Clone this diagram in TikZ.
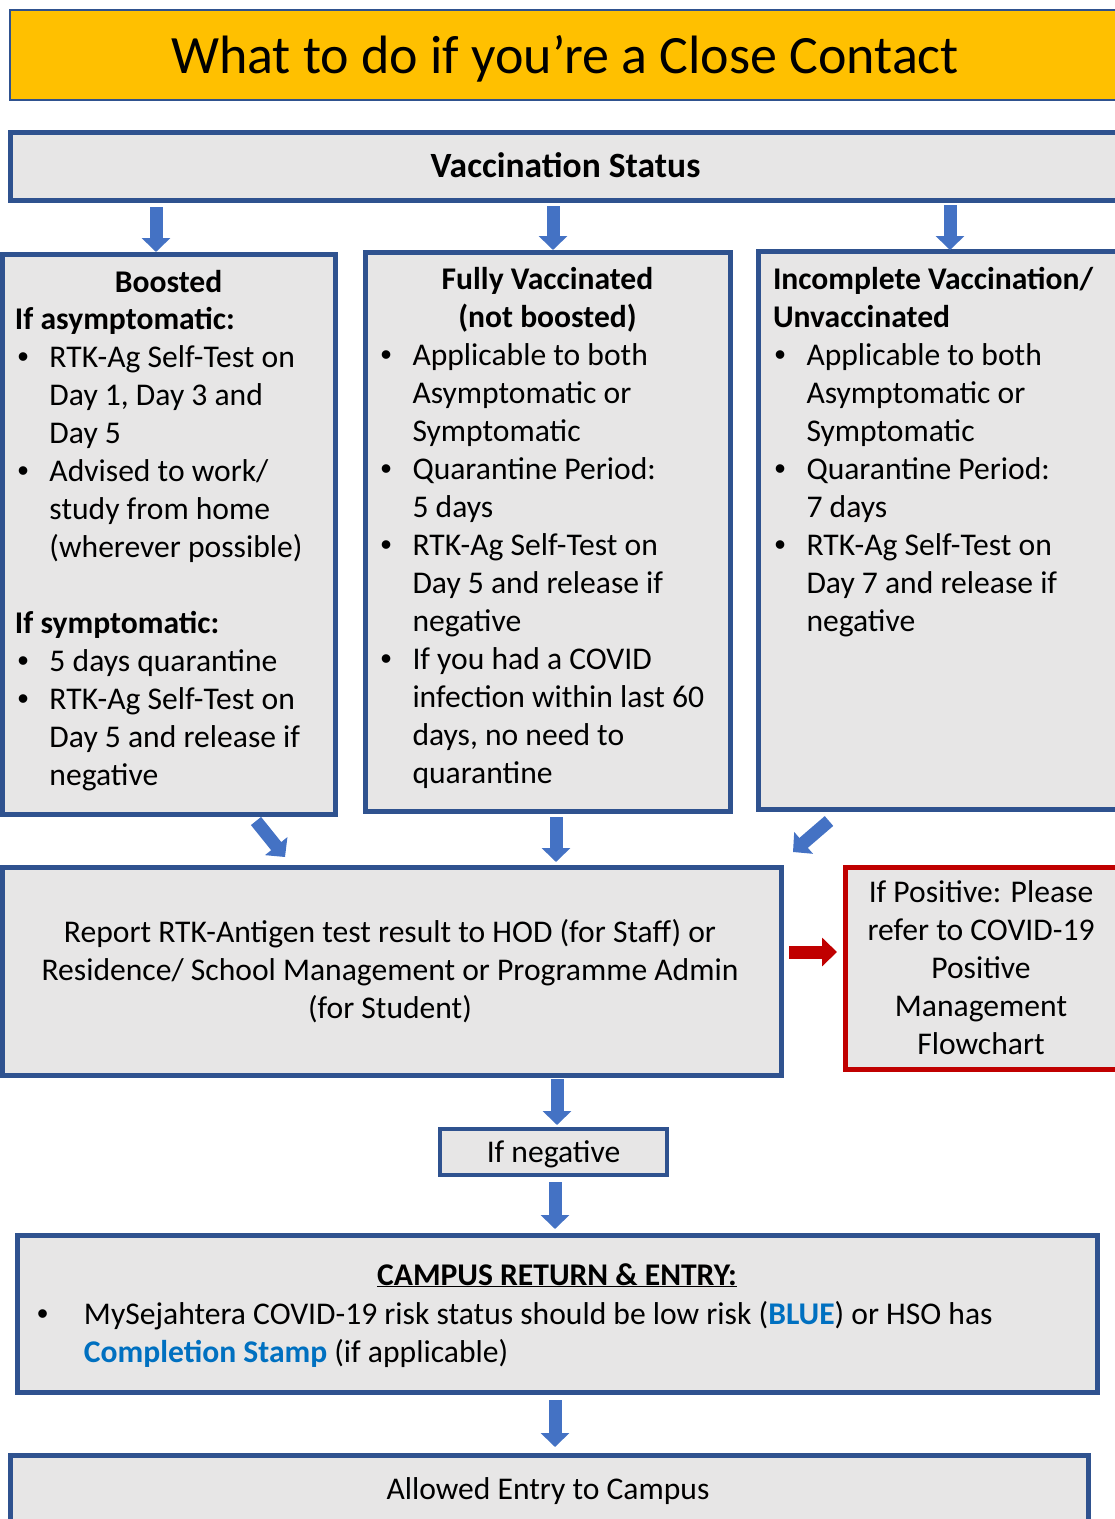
\documentclass[tikz,border=0pt]{standalone}
\usepackage{fontspec}
\setmainfont{Carlito}
\newfontfamily\arialf{Liberation Sans}
\usetikzlibrary{arrows.meta,fit}
\definecolor{bord}{HTML}{2F528F}
\definecolor{boxfill}{HTML}{E7E6E6}
\definecolor{arrowblue}{HTML}{4472C4}
\definecolor{titlefill}{HTML}{FFC000}
\definecolor{redbord}{HTML}{C00000}
\definecolor{textblue}{HTML}{0070C0}
\newcommand\bi{\makebox[32pt][l]{{\arialf •}}}
\newcommand\ci{\hspace*{32pt}}
\begin{document}
\begin{tikzpicture}[x=1pt,y=-1pt,
  box/.style={draw=bord, fill=boxfill, line width=5pt, inner sep=0pt, outer sep=0pt},
  txt/.style={inner sep=0pt, outer sep=0pt, font=\fontsize{31.6}{38}\selectfont},
  barrow/.style={line width=13pt, draw=arrowblue, -{Triangle[width=28pt,length=14pt]}},
  rarrow/.style={line width=13pt, draw=redbord, -{Triangle[width=28pt,length=15pt]}},
]
\useasboundingbox (0,0) rectangle (1115,1519);
\clip (0,0) rectangle (1115,1519);
% boxes
\node[box, line width=2pt, fill=titlefill, fit={(9.5,10) (1121,99.5)}] (title) {};
\node[box, fit={(10.5,132.5) (1121,200)}] (status) {};
\node[box, fit={(2,254.5) (335,814)}] (boost) {};
\node[box, fit={(365,252) (730,811)}] (fully) {};
\node[box, fit={(758,251) (1125,809)}] (incompl) {};
\node[box, fit={(2,867) (781,1075)}] (report) {};
\node[box, draw=redbord, fit={(845,867) (1117,1069)}] (pos) {};
\node[box, line width=4pt, fit={(440,1129) (667,1175)}] (neg) {};
\node[box, fit={(17,1235) (1097,1392)}] (campus) {};
\node[box, fit={(10,1455) (1088,1545)}] (allowed) {};
% texts
\node[txt, font=\fontsize{54}{64}\selectfont, anchor=base] (titletxt) at (565,73) {What to do if you’re a Close Contact};
\node[txt, font=\fontsize{35.5}{42}\selectfont, anchor=base] (statustxt) at (565.5,177) {\bfseries Vaccination Status};
\node[txt, anchor=base] (boosthead) at (168.5,292) {\bfseries Boosted};
\node[txt, anchor=north west, align=left] (boostbody) at (15,302.4) {\strut{\bfseries If asymptomatic:}\\
\hspace*{2.5pt}\bi RTK-Ag Self-Test on\\
\hspace*{2.5pt}\ci Day 1, Day 3 and\\
\hspace*{2.5pt}\ci Day 5\\
\hspace*{2.5pt}\bi Advised to work/\\
\hspace*{2.5pt}\ci study from home\\
\hspace*{2.5pt}\ci (wherever possible)\\
\strut\\
{\bfseries If symptomatic:}\\
\hspace*{2.5pt}\bi 5 days quarantine\\
\hspace*{2.5pt}\bi RTK-Ag Self-Test on\\
\hspace*{2.5pt}\ci Day 5 and release if\\
\hspace*{2.5pt}\ci negative};
\node[txt, anchor=north, align=center] (fullyhead) at (547.5,262.4) {\strut\bfseries Fully Vaccinated\\ \bfseries (not boosted)};
\node[txt, anchor=north west, align=left] (fullybody) at (380.5,338.4) {\strut\bi Applicable to both\\
\ci Asymptomatic or\\
\ci Symptomatic\\
\bi Quarantine Period:\\
\ci 5 days\\
\bi RTK-Ag Self-Test on\\
\ci Day 5 and release if\\
\ci negative\\
\bi If you had a COVID\\
\ci infection within last 60\\
\ci days, no need to\\
\ci quarantine};
\node[txt, anchor=north west, align=left] (incomplhead) at (773,262.4) {\strut\bfseries Incomplete Vaccination/\\ \bfseries Unvaccinated};
\node[txt, anchor=north west, align=left] (incomplbody) at (774.5,338.4) {\strut\bi Applicable to both\\
\ci Asymptomatic or\\
\ci Symptomatic\\
\bi Quarantine Period:\\
\ci 7 days\\
\bi RTK-Ag Self-Test on\\
\ci Day 7 and release if\\
\ci negative};
\node[txt, anchor=north, align=center] (reporttxt) at (390,915.4) {\strut Report RTK-Antigen test result to HOD (for Staff) or\\ Residence/ School Management or Programme Admin\\ (for Student)};
\node[txt, anchor=north, align=center] (postxt) at (981,875.4) {\strut If Positive: Please\\ refer to COVID-19\\ Positive\\ Management\\ Flowchart};
\node[txt, anchor=base] (negtxt) at (553.5,1162) {If negative};
\node[txt, anchor=base] (campushead) at (557,1285) {\bfseries\underline{CAMPUS RETURN \& ENTRY:}};
\node[txt, anchor=north west, align=left] (campusbody) at (37,1297.4) {\strut\makebox[47pt][l]{{\arialf •}}MySejahtera COVID-19 risk status should be low risk ({\bfseries\color{textblue}BLUE}) or HSO has\\
\hspace*{47pt}{\bfseries\color{textblue}Completion Stamp} (if applicable)};
\node[txt, anchor=base] (allowedtxt) at (548,1499) {Allowed Entry to Campus};
% arrows
\coordinate (a1s) at (156,207); \coordinate (a1e) at (156,252);
\coordinate (a2s) at (553,206); \coordinate (a2e) at (553,250);
\coordinate (a3s) at (950,205); \coordinate (a3e) at (950,250);
\coordinate (b1s) at (256,821); \coordinate (b1e) at (285,857);
\coordinate (b2s) at (556,817); \coordinate (b2e) at (556,862);
\coordinate (b3s) at (829,821); \coordinate (b3e) at (793,852);
\coordinate (rs) at (789,952); \coordinate (re) at (837,952);
\coordinate (c1s) at (557,1079); \coordinate (c1e) at (557,1125);
\coordinate (c2s) at (555,1182); \coordinate (c2e) at (555,1229);
\coordinate (c3s) at (555,1400); \coordinate (c3e) at (555,1447);
\draw[barrow] (a1s) -- (a1e);
\draw[barrow] (a2s) -- (a2e);
\draw[barrow] (a3s) -- (a3e);
\draw[barrow] (b1s) -- (b1e);
\draw[barrow] (b2s) -- (b2e);
\draw[barrow] (b3s) -- (b3e);
\draw[rarrow] (rs) -- (re);
\draw[barrow] (c1s) -- (c1e);
\draw[barrow] (c2s) -- (c2e);
\draw[barrow] (c3s) -- (c3e);
\end{tikzpicture}
\end{document}
